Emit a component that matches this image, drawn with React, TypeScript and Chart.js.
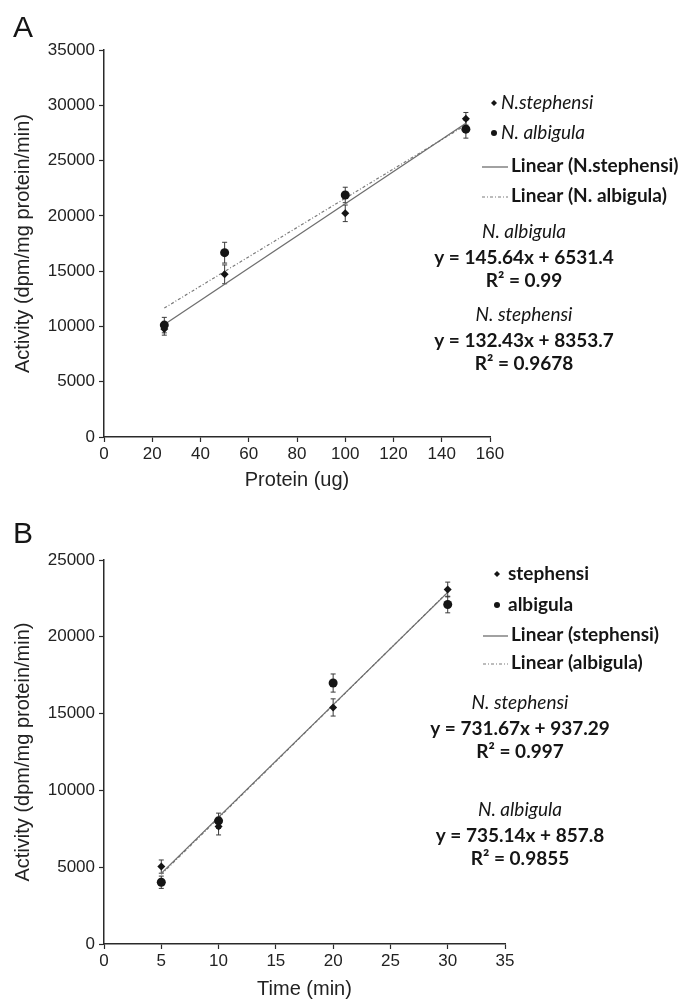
import React, { useEffect, useRef } from "react";
import { Chart, registerables } from "chart.js";

Chart.register(...registerables);

// ---------- Panel A data ----------
const proteinX = [25, 50, 100, 150];
const stephensiA = [9760, 14710, 20230, 28780];
const stephensiAErr = [550, 850, 750, 570];
const albigulaA = [10120, 16670, 21890, 27840];
const albigulaAErr = [700, 940, 700, 810];
const trendXA = [25, 150];
const trendSolidA = [10170, 28380];
const trendDottedA = [11660, 28220];
const legendLabelsA = ["N.stephensi", "N. albigula", "Linear (N.stephensi)", "Linear (N. albigula)"];
const eqLinesA = ["N. albigula", "y = 145.64x + 6531.4", "R² = 0.99", "N. stephensi", "y = 132.43x + 8353.7", "R² = 0.9678"];
const xTicksA = [0, 20, 40, 60, 80, 100, 120, 140, 160];
const yTicksA = [0, 5000, 10000, 15000, 20000, 25000, 30000, 35000];

// ---------- Panel B data ----------
const timeX = [5, 10, 20, 30];
const stephensiB = [5040, 7650, 15400, 23080];
const stephensiBErr = [430, 550, 560, 480];
const albigulaB = [4020, 8020, 16990, 22100];
const albigulaBErr = [400, 500, 590, 540];
const trendXB = [5, 30];
const trendSolidB = [4600, 22890];
const trendDottedB = [4530, 22910];
const legendLabelsB = ["stephensi", "albigula", "Linear (stephensi)", "Linear (albigula)"];
const eqLinesB = ["N. stephensi", "y = 731.67x + 937.29", "R² = 0.997", "N. albigula", "y = 735.14x + 857.8", "R² = 0.9855"];
const xTicksB = [0, 5, 10, 15, 20, 25, 30, 35];
const yTicksB = [0, 5000, 10000, 15000, 20000, 25000];

const yTitle = "Activity (dpm/mg protein/min)";

const FONT_AX = "'Liberation Sans', Arial, Helvetica, sans-serif";
const FONT_TX = "Lato, 'Open Sans', sans-serif";
const TX_SIZE = 19;
const INK = "#151515";
const AXIS = "#2a2a2a";

type Spec = {
  letter: string;
  letterY: number;
  xs: number[];
  steph: number[];
  stephErr: number[];
  alb: number[];
  albErr: number[];
  trendX: number[];
  trendSolid: number[];
  trendDotted: number[];
  labels: string[];
  legendItalic: boolean[];
  eqLines: string[];
  xTicks: number[];
  yTicks: number[];
  xTitle: string;
  height: number;
  padTop: number;
  padRight: number;
  xScaleH: number;
  xTitlePad: number;
  legendYs: number[];
  legendMarkerX: number;
  legendTextX: number;
  legendLineFrom: number;
  legendLineTo: number;
  legendLineTextX: number;
  eqX: number;
  eqYs: number[];
};

const pts = (xs: number[], ys: number[]) => xs.map((x, i) => ({ x, y: ys[i] }));

const errorBarPlugin = {
  id: "errorBars",
  beforeDatasetsDraw(chart: any, _a: any, opts: any) {
    const ctx = chart.ctx as CanvasRenderingContext2D;
    const ys = chart.scales.y;
    ctx.save();
    ctx.strokeStyle = "#3a3a3a";
    ctx.lineWidth = 1;
    (opts.errors as (number[] | null)[]).forEach((errs, di) => {
      if (!errs) return;
      const meta = chart.getDatasetMeta(di);
      const data = chart.data.datasets[di].data as { x: number; y: number }[];
      meta.data.forEach((el: any, i: number) => {
        const v = data[i].y;
        const e = errs[i];
        const t = ys.getPixelForValue(v + e);
        const b = ys.getPixelForValue(v - e);
        const x = el.x;
        const cap = 2.5;
        ctx.beginPath();
        ctx.moveTo(x, t);
        ctx.lineTo(x, b);
        ctx.moveTo(x - cap, t);
        ctx.lineTo(x + cap, t);
        ctx.moveTo(x - cap, b);
        ctx.lineTo(x + cap, b);
        ctx.stroke();
      });
    });
    ctx.restore();
  },
};

const annotPlugin = {
  id: "annot",
  afterDraw(chart: any, _a: any, o: any) {
    const s: Spec = o.spec;
    const ctx = chart.ctx as CanvasRenderingContext2D;
    ctx.save();
    // panel letter
    ctx.fillStyle = INK;
    ctx.textAlign = "left";
    ctx.textBaseline = "alphabetic";
    ctx.font = `30px ${FONT_AX}`;
    ctx.fillText(s.letter, 13, s.letterY);

    // legend
    ctx.textBaseline = "middle";
    chart.data.datasets.forEach((ds: any, i: number) => {
      const y = s.legendYs[i];
      const italic = s.legendItalic[i];
      ctx.fillStyle = INK;
      if (!ds.showLine) {
        ctx.beginPath();
        if (ds.pointStyle === "rectRot") {
          const r = 3;
          ctx.moveTo(s.legendMarkerX, y - r);
          ctx.lineTo(s.legendMarkerX + r, y);
          ctx.lineTo(s.legendMarkerX, y + r);
          ctx.lineTo(s.legendMarkerX - r, y);
          ctx.closePath();
        } else {
          ctx.arc(s.legendMarkerX, y, 3, 0, Math.PI * 2);
        }
        ctx.fill();
        ctx.font = italic ? `italic ${TX_SIZE}px ${FONT_TX}` : `bold ${TX_SIZE}px ${FONT_TX}`;
        ctx.fillText(ds.label, s.legendTextX, y);
      } else {
        ctx.save();
        ctx.strokeStyle = ds.borderColor;
        ctx.lineWidth = ds.borderWidth;
        ctx.setLineDash(ds.borderDash || []);
        ctx.beginPath();
        ctx.moveTo(s.legendLineFrom, y + 1);
        ctx.lineTo(s.legendLineTo, y + 1);
        ctx.stroke();
        ctx.restore();
        ctx.font = `bold ${TX_SIZE}px ${FONT_TX}`;
        ctx.fillText(ds.label, s.legendLineTextX, y);
      }
    });

    // equations
    ctx.textAlign = "center";
    s.eqLines.forEach((line, i) => {
      const italic = i % 3 === 0;
      ctx.font = italic ? `italic ${TX_SIZE}px ${FONT_TX}` : `bold ${TX_SIZE}px ${FONT_TX}`;
      ctx.fillText(line, s.eqX, s.eqYs[i]);
    });
    ctx.restore();
  },
};

function buildConfig(s: Spec): any {
  const xMax = s.xTicks[s.xTicks.length - 1];
  const yMax = s.yTicks[s.yTicks.length - 1];
  return {
    type: "scatter",
    data: {
      datasets: [
        {
          label: s.labels[0],
          data: pts(s.xs, s.steph),
          pointStyle: "rectRot",
          pointRadius: 4,
          backgroundColor: INK,
          borderColor: INK,
          borderWidth: 0,
          showLine: false,
        },
        {
          label: s.labels[1],
          data: pts(s.xs, s.alb),
          pointStyle: "circle",
          pointRadius: 4.5,
          backgroundColor: INK,
          borderColor: INK,
          borderWidth: 0,
          showLine: false,
        },
        {
          label: s.labels[2],
          data: pts(s.trendX, s.trendSolid),
          showLine: true,
          pointRadius: 0,
          borderColor: "#6e6e6e",
          borderWidth: 1.3,
          fill: false,
        },
        {
          label: s.labels[3],
          data: pts(s.trendX, s.trendDotted),
          showLine: true,
          pointRadius: 0,
          borderColor: "#7a7a7a",
          borderWidth: 1.2,
          borderDash: [3, 2, 1, 2],
          fill: false,
        },
      ],
    },
    options: {
      responsive: false,
      animation: false,
      events: [],
      layout: { padding: { top: s.padTop, right: s.padRight, bottom: 0, left: 0 } },
      plugins: {
        legend: { display: false },
        tooltip: { enabled: false },
        errorBars: { errors: [s.stephErr, s.albErr, null, null] },
        annot: { spec: s },
      },
      scales: {
        x: {
          type: "linear",
          min: 0,
          max: xMax,
          afterFit: (sc: any) => {
            sc.height = s.xScaleH;
          },
          afterBuildTicks: (sc: any) => {
            sc.ticks = s.xTicks.map((v) => ({ value: v }));
          },
          ticks: {
            color: "#222",
            font: { family: FONT_AX, size: 17 },
            padding: 2,
            maxRotation: 0,
            callback: (v: any) => String(v),
          },
          grid: {
            display: true,
            drawOnChartArea: false,
            drawTicks: true,
            tickLength: 5,
            tickColor: AXIS,
            tickWidth: 1.2,
          },
          border: { display: true, color: AXIS, width: 1.5 },
          title: {
            display: true,
            text: s.xTitle,
            color: "#222",
            font: { family: FONT_AX, size: 20, lineHeight: 1 },
            padding: { top: 0, bottom: s.xTitlePad },
          },
        },
        y: {
          type: "linear",
          min: 0,
          max: yMax,
          afterFit: (sc: any) => {
            sc.width = 104;
          },
          afterBuildTicks: (sc: any) => {
            sc.ticks = s.yTicks.map((v) => ({ value: v }));
          },
          ticks: {
            color: "#222",
            font: { family: FONT_AX, size: 17 },
            padding: 4,
            callback: (v: any) => String(v),
          },
          grid: {
            display: true,
            drawOnChartArea: false,
            drawTicks: true,
            tickLength: 5,
            tickColor: AXIS,
            tickWidth: 1.2,
          },
          border: { display: true, color: AXIS, width: 1.5 },
          title: {
            display: true,
            text: yTitle,
            color: "#222",
            font: { family: FONT_AX, size: 20, lineHeight: 1 },
            padding: { top: 13, bottom: 0 },
          },
        },
      },
    },
    plugins: [errorBarPlugin, annotPlugin],
  };
}

const specA: Spec = {
  letter: "A",
  letterY: 37,
  xs: proteinX,
  steph: stephensiA,
  stephErr: stephensiAErr,
  alb: albigulaA,
  albErr: albigulaAErr,
  trendX: trendXA,
  trendSolid: trendSolidA,
  trendDotted: trendDottedA,
  labels: legendLabelsA,
  legendItalic: [true, true, false, false],
  eqLines: eqLinesA,
  xTicks: xTicksA,
  yTicks: yTicksA,
  xTitle: "Protein (ug)",
  height: 499,
  padTop: 50,
  padRight: 188,
  xScaleH: 62,
  xTitlePad: 9,
  legendYs: [103, 133, 166, 196],
  legendMarkerX: 494,
  legendTextX: 501,
  legendLineFrom: 482,
  legendLineTo: 508,
  legendLineTextX: 511,
  eqX: 524,
  eqYs: [232, 258, 281, 315, 341, 364],
};

const specB: Spec = {
  letter: "B",
  letterY: 44,
  xs: timeX,
  steph: stephensiB,
  stephErr: stephensiBErr,
  alb: albigulaB,
  albErr: albigulaBErr,
  trendX: trendXB,
  trendSolid: trendSolidB,
  trendDotted: trendDottedB,
  labels: legendLabelsB,
  legendItalic: [false, false, false, false],
  eqLines: eqLinesB,
  xTicks: xTicksB,
  yTicks: yTicksB,
  xTitle: "Time (min)",
  height: 500,
  padTop: 61,
  padRight: 173,
  xScaleH: 55,
  xTitlePad: 0,
  legendYs: [75, 106, 136, 164],
  legendMarkerX: 497,
  legendTextX: 508,
  legendLineFrom: 483,
  legendLineTo: 508,
  legendLineTextX: 511,
  eqX: 520,
  eqYs: [204, 230, 253, 311, 337, 360],
};

function Panel({ spec, top }: { spec: Spec; top: number }) {
  const ref = useRef<HTMLCanvasElement>(null);
  useEffect(() => {
    const chart = new Chart(ref.current as HTMLCanvasElement, buildConfig(spec));
    return () => chart.destroy();
  }, [spec]);
  return (
    <canvas
      ref={ref}
      width={678}
      height={spec.height}
      style={{ position: "absolute", left: 0, top, width: 678, height: spec.height, display: "block" }}
    />
  );
}

export default function App() {
  return (
    <div style={{ position: "absolute", left: 0, top: 0, width: 678, height: 999, background: "#fff", overflow: "hidden" }}>
      <Panel spec={specA} top={0} />
      <Panel spec={specB} top={499} />
    </div>
  );
}
